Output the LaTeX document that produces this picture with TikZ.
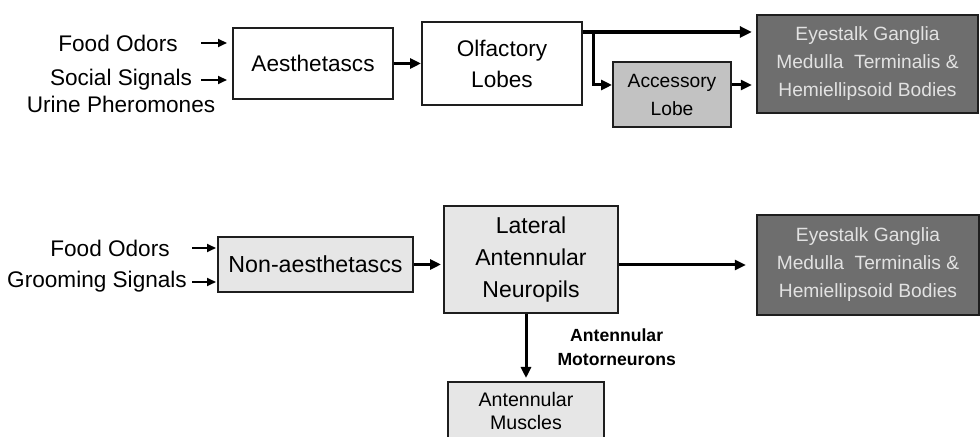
\documentclass[tikz,border=0pt]{standalone}
\usepackage{fontspec}
\setmainfont{Liberation Sans}
\usetikzlibrary{positioning, arrows.meta}
\definecolor{edgegray}{HTML}{1E1E1E}
\definecolor{boxlight}{HTML}{E6E6E6}
\definecolor{boxmid}{HTML}{C2C2C2}
\definecolor{boxdark}{HTML}{6E6E6E}
\definecolor{textlight}{HTML}{E2E2E2}

\begin{document}
\begin{tikzpicture}[x=0.5pt, y=-0.5pt,
  box/.style={draw=edgegray, line width=1pt, align=center, inner sep=0pt,
              font=\fontsize{11.3}{15.5}\selectfont},
  darkbox/.style={box, fill=boxdark, text=textlight, line width=1.2pt,
              font=\fontsize{9.6}{14}\selectfont},
  cue/.style={inner sep=0pt, font=\fontsize{11.3}{13}\selectfont},
  inarrow/.style={line width=1pt, -{Triangle[length=4.5pt, width=4pt]}},
  mainarrow/.style={line width=1.5pt, -{Triangle[length=5.5pt, width=5pt]}},
  thickarrow/.style={line width=2pt, -{Triangle[length=6pt, width=5.5pt]}}]
  \clip (0,0) rectangle (980,437);
  \fill[white] (0,0) rectangle (980,437);

  % top row
  \node[box, minimum width=80pt, minimum height=35.5pt] (aes) at (313,63.5) {Aesthetascs};
  \node[box, minimum width=80pt, minimum height=41.5pt] (olf) at (502,63.5) {Olfactory\\Lobes};
  \node[box, fill=boxmid, minimum width=59pt, minimum height=32.5pt,
        font=\fontsize{9.6}{14}\selectfont] (acc) at (672,94.5) {Accessory\\Lobe};
  \node[darkbox, minimum width=110.5pt, minimum height=49pt] (eyetop) at (867.5,64)
        {Eyestalk Ganglia\\Medulla\ \ Terminalis \&\\Hemiellipsoid Bodies};

  \node[cue] (food) at (118,43) {Food Odors};
  \node[cue] (social) at (121,80) {Social Signals};
  \node[cue, below=2.4pt of social] (urine) {Urine Pheromones};

  \draw[inarrow] ([xshift=-15.5pt]aes.west |- food) -- ([xshift=-2.5pt]aes.west |- food);
  \draw[inarrow] ([xshift=-15.5pt]aes.west |- social) -- ([xshift=-2.5pt]aes.west |- social);
  \draw[mainarrow] (aes.east) -- (aes.east -| olf.west);

  \coordinate (split) at ([yshift=-5.5pt]olf.north east);
  \coordinate (branch) at ([xshift=5pt]split);
  \draw[thickarrow, shorten >=2pt] (split) -- (split -| eyetop.west);
  \draw[mainarrow] (branch) |- ([yshift=4.75pt]acc.west);
  \draw[mainarrow, shorten >=2pt] ([yshift=4.75pt]acc.east) -- ([yshift=4.75pt]acc.east -| eyetop.west);

  % bottom row
  \node[box, fill=boxlight, minimum width=97.5pt, minimum height=27.5pt,
        font=\fontsize{11.6}{14}\selectfont] (nonaes) at (315.5,264.5) {Non-aesthetascs};
  \node[box, fill=boxlight, minimum width=87pt, minimum height=53.5pt,
        font=\fontsize{11.5}{16}\selectfont] (lan) at (531,259.5) {Lateral\\Antennular\\Neuropils};
  \node[darkbox, minimum width=111pt, minimum height=50pt] (eyebot) at (868,265)
        {Eyestalk Ganglia\\Medulla\ \ Terminalis \&\\Hemiellipsoid Bodies};
  \node[box, fill=boxlight, minimum width=78pt, minimum height=29pt,
        font=\fontsize{9.8}{11.5}\selectfont] (mus) at (526,411) {Antennular\\Muscles};

  \node[cue] (food2) at (110,248) {Food Odors};
  \node[cue] (groom) at (97,282) {Grooming Signals};

  \draw[inarrow] ([xshift=-12.5pt]nonaes.west |- food2) -- ([xshift=-0.5pt]nonaes.west |- food2);
  \draw[inarrow] ([xshift=-12.5pt]nonaes.west |- groom) -- ([xshift=-0.5pt]nonaes.west |- groom);
  \draw[mainarrow, shorten >=1pt] (nonaes.east) -- (nonaes.east -| lan.west);
  \draw[mainarrow, shorten >=5pt] (lan.east |- eyebot.west) -- (eyebot.west);
  \draw[mainarrow, shorten >=1.5pt] (mus.north |- lan.south) -- node[right=15pt, align=center,
        inner sep=0pt, font=\bfseries\fontsize{8.8}{12}\selectfont] (motor) {Antennular\\Motorneurons} (mus.north);
\end{tikzpicture}
\end{document}
